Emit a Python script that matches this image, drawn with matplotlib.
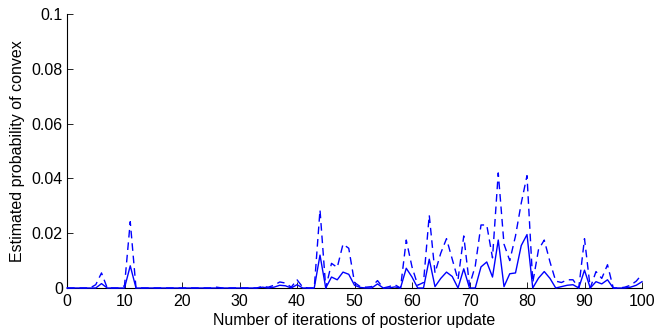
import numpy as np
import matplotlib
matplotlib.use("Agg")
import matplotlib.pyplot as plt

iterations = list(range(0, 101))

# solid line: estimated probability
solid_vals = {
    6: 0.0016, 11: 0.0081,
    34: 0.0003, 36: 0.0003, 37: 0.001, 38: 0.0008, 40: 0.0012,
    44: 0.012, 46: 0.004, 47: 0.003, 48: 0.0058, 49: 0.005, 50: 0.001, 51: 0.0002,
    54: 0.0015, 57: 0.0004,
    59: 0.0072, 60: 0.004, 63: 0.0105, 64: 0.0005, 65: 0.0035, 66: 0.0058, 67: 0.0042,
    69: 0.007, 72: 0.0077, 73: 0.0095, 74: 0.004, 75: 0.0175, 76: 0.0005,
    77: 0.0052, 78: 0.0055, 79: 0.0155, 80: 0.0195,
    82: 0.0036, 83: 0.006, 84: 0.0035, 86: 0.0005, 87: 0.001, 88: 0.0012,
    90: 0.0065, 92: 0.0023, 93: 0.0015, 94: 0.003,
    98: 0.0003, 99: 0.001, 100: 0.0023,
}
# dashed line: upper bound
dashed_vals = {
    5: 0.0012, 6: 0.0055, 10: 0.0008, 11: 0.0242,
    26: 0.0003, 34: 0.0006, 35: 0.0003, 36: 0.001, 37: 0.0022, 38: 0.0018, 39: 0.0003,
    40: 0.003, 41: 0.0003,
    44: 0.0285, 46: 0.009, 47: 0.0075, 48: 0.016, 49: 0.0145, 50: 0.002, 51: 0.0005, 52: 0.0003,
    53: 0.0005, 54: 0.0027, 56: 0.0005, 57: 0.0012,
    59: 0.0175, 60: 0.0077, 61: 0.001, 62: 0.002, 63: 0.0266, 64: 0.0055, 65: 0.0127,
    66: 0.018, 67: 0.0105, 68: 0.003, 69: 0.019, 70: 0.001, 71: 0.008,
    72: 0.023, 73: 0.023, 74: 0.011, 75: 0.042, 76: 0.016, 77: 0.01, 78: 0.019,
    79: 0.031, 80: 0.041, 81: 0.002, 82: 0.014, 83: 0.0175, 84: 0.0095, 85: 0.0025,
    86: 0.002, 87: 0.003, 88: 0.003, 90: 0.018, 92: 0.006, 93: 0.0035, 94: 0.0085,
    97: 0.0003, 98: 0.001, 99: 0.0025, 100: 0.005,
}
solid = [solid_vals.get(i, 0.0) for i in iterations]
dashed = [dashed_vals.get(i, 0.0) for i in iterations]

xticks = [0, 10, 20, 30, 40, 50, 60, 70, 80, 90, 100]
yticks = [0, 0.02, 0.04, 0.06, 0.08, 0.1]
ytick_labels = ["0", "0.02", "0.04", "0.06", "0.08", "0.1"]

plt.rcParams['font.family'] = ['Liberation Sans', 'DejaVu Sans']

fig = plt.figure(figsize=(6.57, 3.28), dpi=100)
ax = fig.add_axes([67 / 657, 1 - 288 / 328, (642 - 67) / 657, (288 - 14) / 328])

ax.plot(iterations, dashed, color="#0000ff", lw=1.0, linestyle=(0, (5.5, 3.5)), zorder=3, clip_on=False)
ax.plot(iterations, solid, color="#0000ff", lw=1.0, zorder=3, clip_on=False)

ax.set_xlim(0, 100)
ax.set_ylim(0, 0.1)
ax.set_xticks(xticks)
ax.set_yticks(yticks)
ax.set_yticklabels(ytick_labels)
ax.spines['top'].set_visible(False)
ax.spines['right'].set_visible(False)
for s in ('left', 'bottom'):
    ax.spines[s].set_linewidth(0.8)
ax.tick_params(direction='in', length=4, width=0.6, labelsize=11.5, pad=3)
ax.tick_params(axis='x', pad=4.5)
ax.set_xlabel("Number of iterations of posterior update", fontsize=11.5, labelpad=2.5)
ax.set_ylabel("Estimated probability of convex", fontsize=11.5, labelpad=5)

fig.savefig("out.png", dpi=100)
